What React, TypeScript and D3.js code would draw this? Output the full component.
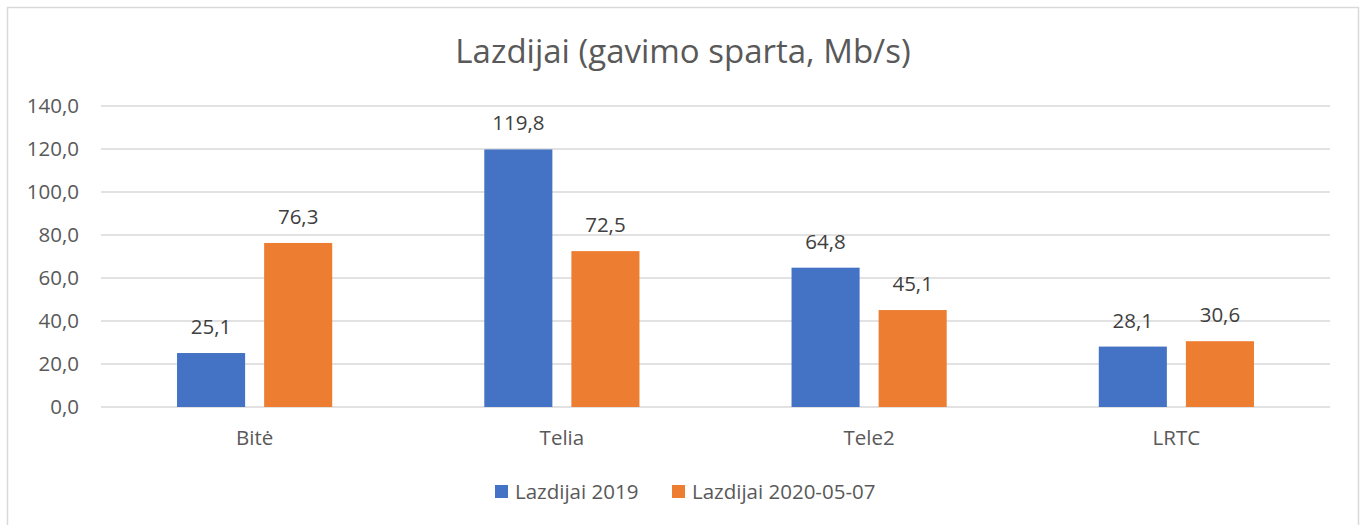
import React from 'react';
import * as d3 from 'd3';

const categories = ['Bitė', 'Telia', 'Tele2', 'LRTC'];
const seriesNames = ['Lazdijai 2019', 'Lazdijai 2020-05-07'];
const values2019 = [25.1, 119.8, 64.8, 28.1];
const values2020 = [76.3, 72.5, 45.1, 30.6];
const colors = ['#4472C4', '#ED7D31'];
const yTicks = [0, 20, 40, 60, 80, 100, 120, 140];

const W = 1365;
const H = 525;
const fontFamily = '"Open Sans", Lato, sans-serif';
const textColor = '#595959';
const fs = 20.5;

const App = () => {
  const x0 = d3.scaleBand<string>().domain(categories).range([101, 1330]).padding(0);
  const x1 = d3.scaleBand<string>()
    .domain(seriesNames)
    .range([0, x0.bandwidth()])
    .paddingInner(19 / 87)
    .paddingOuter(0.873);
  const y = d3.scaleLinear().domain([0, 140]).range([407, 106]);
  const fmt = (v: number) => d3.format('.1f')(v).replace('.', ',');
  const series = [values2019, values2020];

  return (
    <svg width={W} height={H} style={{ position: 'absolute', left: 0, top: 0 }} fontFamily={fontFamily}>
      <rect x={7.5} y={7.5} width={1351} height={530} fill="#fff" stroke="#D9D9D9" strokeWidth={1.5} />
      <text x={683} y={63} textAnchor="middle" fontSize={33} fill={textColor}>
        Lazdijai (gavimo sparta, Mb/s)
      </text>
      {yTicks.map(t => (
        <g key={t}>
          <line x1={101} x2={1330} y1={y(t)} y2={y(t)} stroke="#D9D9D9" strokeWidth={1.3} />
          <text x={79} y={y(t) + 7} textAnchor="end" fontSize={fs} fill={textColor}>{fmt(t)}</text>
        </g>
      ))}
      {categories.map((c, i) => (
        <g key={c}>
          {seriesNames.map((s, j) => {
            const v = series[j][i];
            const bx = (x0(c) ?? 0) + (x1(s) ?? 0);
            return (
              <g key={s}>
                <rect x={bx} y={y(v)} width={x1.bandwidth()} height={y(0) - y(v)} fill={colors[j]} />
                <text x={bx + x1.bandwidth() / 2} y={y(v) - 19} textAnchor="middle" fontSize={fs} fill="#404040">
                  {fmt(v)}
                </text>
              </g>
            );
          })}
          <text x={(x0(c) ?? 0) + x0.bandwidth() / 2} y={445} textAnchor="middle" fontSize={fs} fill={textColor}>{c}</text>
        </g>
      ))}
      {seriesNames.map((s, j) => {
        const lx = j === 0 ? 495 : 672;
        return (
          <g key={s}>
            <rect x={lx} y={485} width={13} height={13} fill={colors[j]} />
            <text x={lx + 20} y={499} fontSize={fs} fill={textColor}>{s}</text>
          </g>
        );
      })}
    </svg>
  );
};

export default App;
